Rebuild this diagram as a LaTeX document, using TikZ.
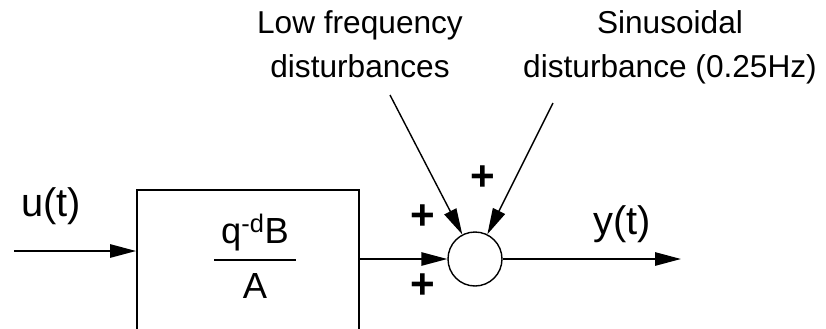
\documentclass[tikz,border=0pt]{standalone}
\usepackage{fontspec}
\setmainfont{Liberation Sans}
\usetikzlibrary{arrows.meta}

\begin{document}
\begin{tikzpicture}[x=0.3mm, y=-0.3mm,
  block/.style={rectangle, draw, line width=1.6pt, minimum width=66.6mm, minimum height=51mm},
  sumnode/.style={circle, draw, line width=1.2pt, minimum size=16.2mm, inner sep=0pt},
  arrowline/.style={-{Triangle[length=7.8mm, width=4mm]}, line width=1.5pt},
  sig/.style={font=\fontsize{34}{40}\selectfont},
  tf/.style={font=\fontsize{31}{36}\selectfont, inner sep=0pt, anchor=base},
  dlabel/.style={font=\fontsize{27}{38}\selectfont, align=center, inner sep=0pt, anchor=north},
  sign/.style={font=\fontsize{36}{42}\selectfont\bfseries, inner sep=0pt}
]
  \useasboundingbox (0,0) rectangle (826,328);
  \clip (0,0) rectangle (826,328);

  \node[block] (plant) at (248,275) {};
  \node[tf] (num) at (255,243) {q\textsuperscript{-d}B};
  \node[tf] (den) at (255,298) {A};
  \draw[line width=1.3pt] (214,260) -- (296,260);

  \node[sumnode] (sum) at (475,259) {};

  \coordinate (uin) at (14,251);
  \coordinate (yout) at (681,259);
  \coordinate (lfin) at (390,95);
  \coordinate (sinin) at (553,103);

  \node[sig] (ulabel) at (51,206) {u(t)};
  \node[sig] (ylabel) at (622,224) {y(t)};
  \node[dlabel] (lflabel) at (360,10) {Low frequency\\disturbances};
  \node[dlabel] (sinlabel) at (670,10) {Sinusoidal\\disturbance (0.25Hz)};

  \node[sign] (plusa) at (423,217) {+};
  \node[sign] (plusb) at (423,286) {+};
  \node[sign] (plusc) at (483,178) {+};

  \draw[arrowline] (uin) -- (uin -| plant.west);
  \draw[arrowline] (plant.east |- sum) -- (sum);
  \draw[arrowline] (sum) -- (yout);
  \draw[arrowline, line width=1.2pt] (lfin) -- (sum);
  \draw[arrowline, line width=1.2pt] (sinin) -- (sum);
\end{tikzpicture}
\end{document}
